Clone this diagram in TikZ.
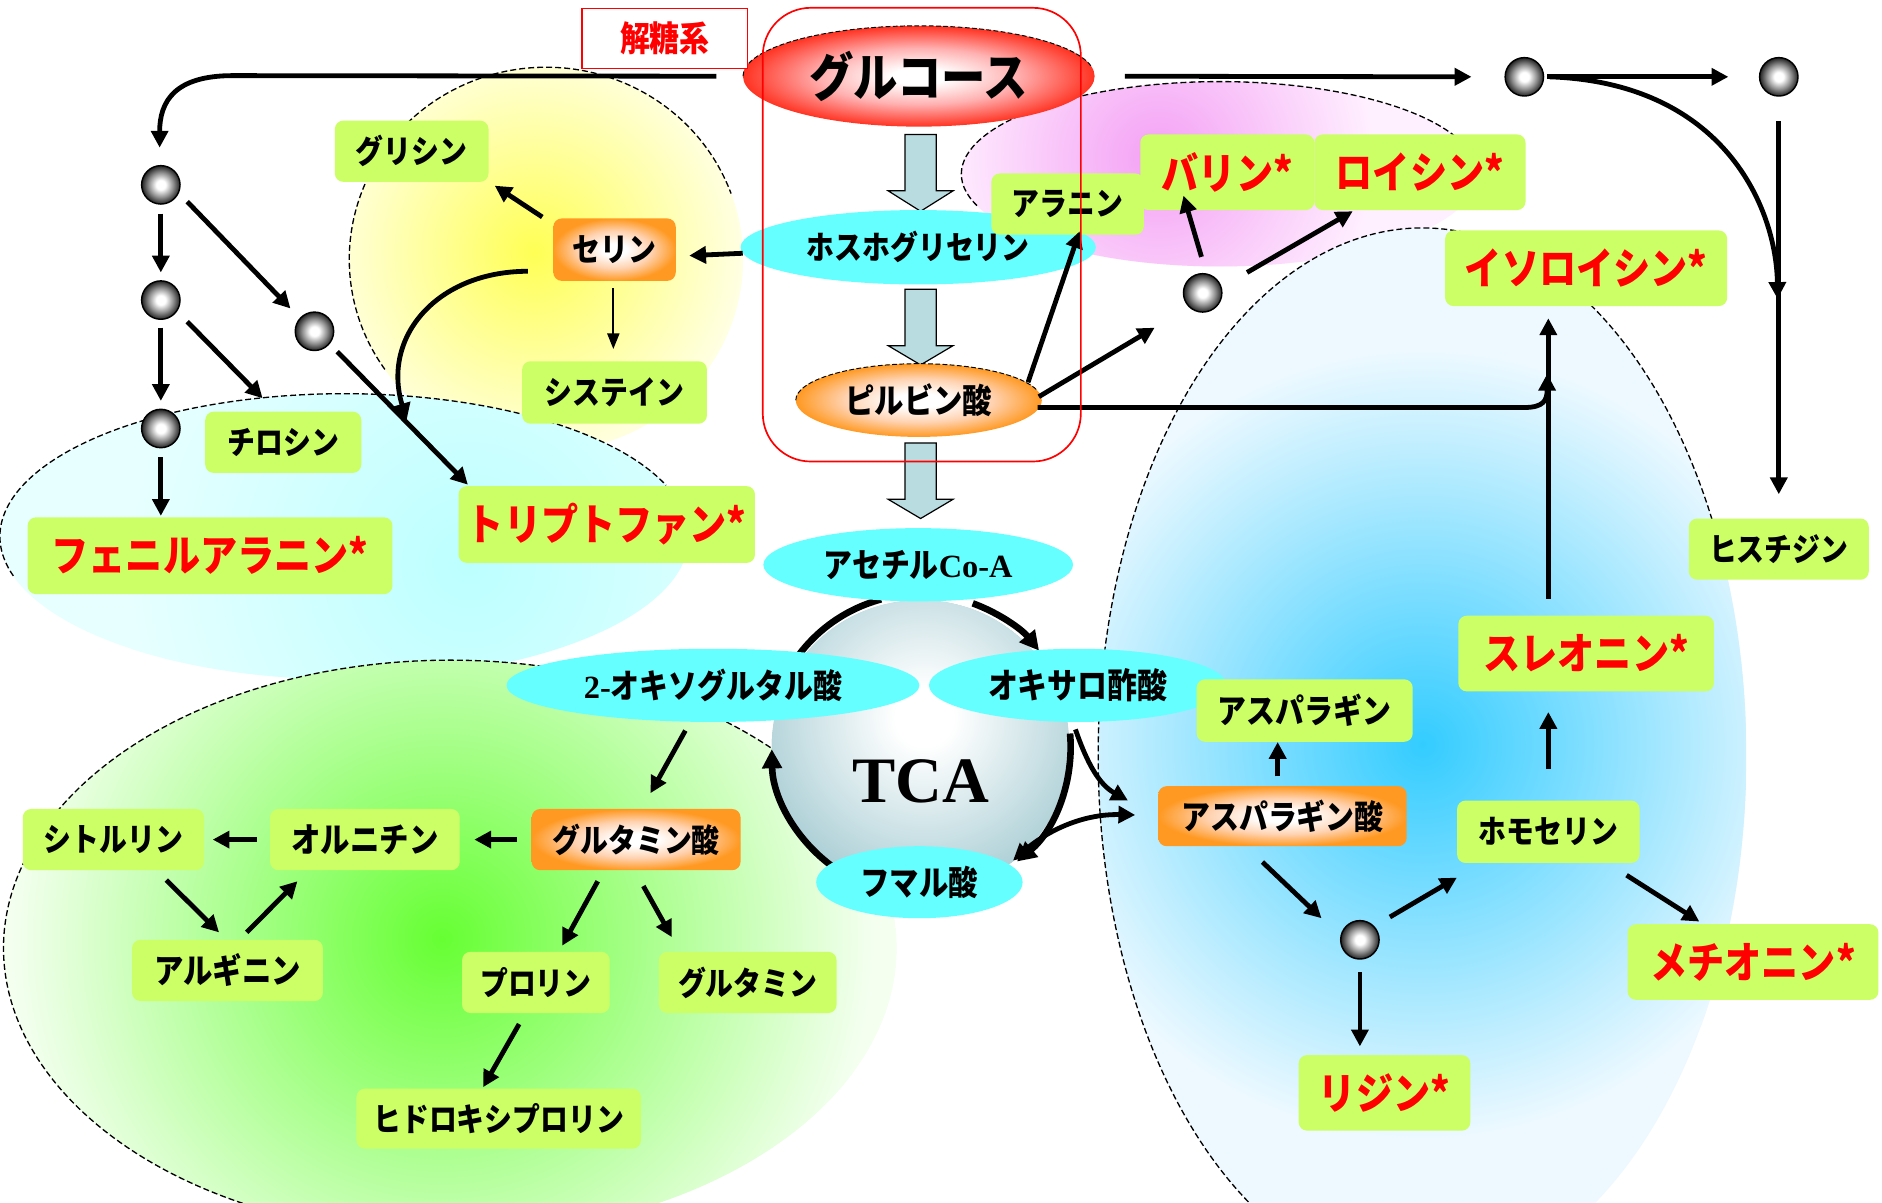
\documentclass[tikz,border=0pt]{standalone}
\usepackage{fontspec}
\newfontfamily\jpfont{Noto Sans CJK JP}[FakeStretch=0.86]
\newfontfamily\tmsfont{Liberation Serif}
\usetikzlibrary{arrows.meta,shapes.geometric,calc}
\definecolor{boxgreen}{HTML}{CCFF66}
\definecolor{cyanell}{HTML}{66FFFF}
\definecolor{blkfill}{HTML}{B8DCDF}
\definecolor{redtxt}{HTML}{FF0000}
\definecolor{pinkI}{HTML}{F4A0F4}\definecolor{pinkO}{HTML}{FFF0FF}
\definecolor{yelI}{HTML}{FFFF55}\definecolor{yelO}{HTML}{FFFFE8}
\definecolor{cyaI}{HTML}{BCFFFF}\definecolor{cyaO}{HTML}{E8FFFF}
\definecolor{bluI}{HTML}{33CCFF}\definecolor{bluO}{HTML}{EEF9FF}
\definecolor{grnI}{HTML}{66FF33}\definecolor{grnO}{HTML}{F4FFF0}
\definecolor{tcaI}{HTML}{FFFFFF}\definecolor{tcaO}{HTML}{A8CDD4}
\definecolor{gluI}{HTML}{FFFFFF}\definecolor{gluM}{HTML}{FFB0B0}\definecolor{gluO}{HTML}{FF3322}
\definecolor{orI}{HTML}{FFFFFF}\definecolor{orM}{HTML}{FFD2B0}\definecolor{orO}{HTML}{FF9922}
\definecolor{spM}{HTML}{909090}\definecolor{spO}{HTML}{222222}
\pgfdeclareradialshading{pinkglow}{\pgfpoint{0bp}{0bp}}{color(0bp)=(pinkI); color(25bp)=(pinkO); color(50bp)=(pinkO)}
\pgfdeclareradialshading{yelglow}{\pgfpoint{0bp}{0bp}}{color(0bp)=(yelI); color(25bp)=(yelO); color(50bp)=(yelO)}
\pgfdeclareradialshading{cyaglow}{\pgfpoint{0bp}{0bp}}{color(0bp)=(cyaI); color(25bp)=(cyaO); color(50bp)=(cyaO)}
\pgfdeclareradialshading{bluglow}{\pgfpoint{0bp}{0bp}}{color(0bp)=(bluI); color(25bp)=(bluO); color(50bp)=(bluO)}
\pgfdeclareradialshading{grnglow}{\pgfpoint{0bp}{0bp}}{color(0bp)=(grnI); color(25bp)=(grnO); color(50bp)=(grnO)}
\pgfdeclareradialshading{tcaglow}{\pgfpoint{0bp}{0bp}}{color(0bp)=(tcaI); color(4bp)=(tcaI); color(25bp)=(tcaO); color(50bp)=(tcaO)}
\pgfdeclareradialshading{gluglow}{\pgfpoint{0bp}{0bp}}{color(0bp)=(gluI); color(4bp)=(gluI); color(14bp)=(gluM); color(25bp)=(gluO); color(50bp)=(gluO)}
\pgfdeclareradialshading{orglow}{\pgfpoint{0bp}{0bp}}{color(0bp)=(orI); color(5bp)=(orI); color(15bp)=(orM); color(25bp)=(orO); color(50bp)=(orO)}
\pgfdeclareradialshading{sphglow}{\pgfpoint{0bp}{0bp}}{color(0bp)=(white); color(6bp)=(white); color(16bp)=(spM); color(25bp)=(spO); color(50bp)=(spO)}
\begin{document}
\begin{tikzpicture}[x=1pt,y=-1pt,
  jp/.style={font=\jpfont\bfseries\fontsize{#1}{#1}\selectfont},
  gb/.style={rectangle, rounded corners=7pt, fill=boxgreen, inner sep=0pt, jp=27},
  rb/.style={gb, text=redtxt, jp=36},
  ob/.style={rectangle, rounded corners=7pt, shade, shading=orglow, inner sep=0pt, jp=27},
  ce/.style={ellipse, fill=cyanell, inner sep=0pt, jp=27},
  sph/.style={circle, minimum size=32pt, inner sep=0pt, draw=black, line width=1.2pt, shade, shading=sphglow},
  arr/.style={line width=4pt, -{Triangle[length=14pt,width=14pt]}},
  arrtwo/.style={line width=4pt, {Triangle[length=14pt,width=14pt]}-{Triangle[length=14pt,width=14pt]}},
  thinarr/.style={line width=1.6pt, -{Triangle[length=13pt,width=10pt]}},
  tcarc/.style={line width=5.5pt},
  regdash/.style={line width=1.1pt, dash pattern=on 5pt off 2.5pt},
  blk/.style={fill=blkfill, draw=black, line width=1pt},
  edgedash/.style={line width=0.8pt, dash pattern=on 4pt off 2pt}
]
\useasboundingbox (0,0) rectangle (1568,1002);
\fill[white] (0,0) rectangle (1568,1002);

\begin{scope}
\clip (0,0) rectangle (1568,1002);
% pink region
\fill[pinkO] (1016,145) ellipse [x radius=215, y radius=77];
\begin{scope}\clip (1016,145) ellipse [x radius=215, y radius=77];
\shade[shading=pinkglow] (965,132) circle (180);\end{scope}
\draw[regdash] ($(1016,145)+(-200:215 and 77)$) arc[start angle=-200, end angle=-20, x radius=215, y radius=77];
% yellow region
\fill[yelO] (455,216) ellipse [x radius=164, y radius=160];
\begin{scope}\clip (455,216) ellipse [x radius=164, y radius=160];
\shade[shading=yelglow] (445,210) circle (180);\end{scope}
\draw[regdash] ($(455,216)+(-215:164 and 160)$) arc[start angle=-215, end angle=-20, x radius=164, y radius=160];
% cyan region
\fill[cyaO] (287,447) ellipse [x radius=287, y radius=119];
\begin{scope}\clip (287,447) ellipse [x radius=287, y radius=119];
\shade[shading=cyaglow] (390,470) circle (290);\end{scope}
\draw[regdash] ($(287,447)+(-196:287 and 119)$) arc[start angle=-196, end angle=-21, x radius=287, y radius=119];
% green region
\fill[grnO] (375,790) ellipse [x radius=372, y radius=240];
\begin{scope}\clip (375,790) ellipse [x radius=372, y radius=240];
\shade[shading=grnglow] (368,782) circle (360);\end{scope}
\draw[regdash] ($(375,790)+(-246:372 and 240)$) arc[start angle=-246, end angle=-44, x radius=372, y radius=240];
% blue region
\fill[bluO] (1185,630) ellipse [x radius=270, y radius=440];
\begin{scope}\clip (1185,630) ellipse [x radius=270, y radius=440];
\shade[shading=bluglow] (1185,620) circle (330);\end{scope}
\draw[regdash] ($(1185,630)+(-250:270 and 440)$) arc[start angle=-250, end angle=-25, x radius=270, y radius=440];
\end{scope}

% TCA cycle body
\coordinate (tcac) at (767,622);
\begin{scope}\clip (tcac) ellipse [x radius=124, y radius=122];
\fill[tcaO] (tcac) ellipse [x radius=124, y radius=122];
\shade[shading=tcaglow] (770,598) circle (150);\end{scope}
\node[font=\tmsfont\bfseries\fontsize{54}{54}\selectfont] (tca) at (767,651) {TCA};
\draw[tcarc, -{Triangle[length=16pt,width=16pt]}] ($(tcac)+(-70:127)$) arc[start angle=-70, end angle=-39, radius=127];
\draw[tcarc] ($(tcac)+(-105:127)$) arc[start angle=-105, end angle=-152, radius=127];
\draw[tcarc, -{Triangle[length=16pt,width=16pt]}] ($(tcac)+(-5:125)$) arc[start angle=-5, end angle=50, radius=125];
\draw[tcarc, -{Triangle[length=16pt,width=16pt]}] ($(tcac)+(-238:124)$) arc[start angle=-238, end angle=-181, radius=124];

% block arrows
\foreach \ya/\yb/\yc in {112/159/176, 241/288/304, 369/416/432}{
  \draw[blk] (754,\ya) -- (780,\ya) -- (780,\yb) -- (794,\yb) -- (767,\yc) -- (740,\yb) -- (754,\yb) -- cycle;
}

% ellipses
\node[ellipse, shade, shading=gluglow, minimum width=293pt, minimum height=84pt, inner sep=0pt, jp=43] (glu) at (765.5,63.5) {グルコース};
\draw[edgedash] ($(glu.center)+(-180:146.5 and 42)$) arc[start angle=-180, end angle=-12, x radius=146.5, y radius=42];
\node[ce, minimum width=296pt, minimum height=62pt] (pga) at (765,206) {ホスホグリセリン};
\node[ellipse, shade, shading=orglow, minimum width=205pt, minimum height=61pt, inner sep=0pt, jp=28.5] (pyr) at (765.5,333.5) {ピルビン酸};
\draw[edgedash] ($(pyr.center)+(-180:102.5 and 30.5)$) arc[start angle=-180, end angle=-15, x radius=102.5, y radius=30.5];
\node[ce, minimum width=258pt, minimum height=61pt, jp=28] (aca) at (765,470.5) {アセチル{\tmsfont\bfseries\fontsize{27}{27}\selectfont Co-A}};
\node[ce, minimum width=344pt, minimum height=61pt, jp=28] (oxg) at (594,571) {{\tmsfont\bfseries\fontsize{27}{27}\selectfont 2-}オキソグルタル酸};
\node[ce, minimum width=248pt, minimum height=61pt, jp=29] (oaa) at (898,571) {オキサロ酢酸};
\node[ce, minimum width=172pt, minimum height=60pt, jp=28.5] (fum) at (766,735) {フマル酸};

% boxes
\node[gb, minimum width=128pt, minimum height=51pt] (gly) at (343,126) {グリシン};
\node[ob, minimum width=102pt, minimum height=52pt] (ser) at (512,208) {セリン};
\node[gb, minimum width=154pt, minimum height=52pt] (cys) at (512,327) {システイン};
\node[gb, minimum width=130pt, minimum height=51pt] (tyr) at (236,368.5) {チロシン};
\node[rb, minimum width=304pt, minimum height=64pt] (phe) at (175,463) {フェニルアラニン*};
\node[rb, minimum width=247pt, minimum height=64pt] (trp) at (505.5,437) {トリプトファン*};
\node[gb, minimum width=127pt, minimum height=51pt] (ala) at (889.5,170) {アラニン};
\node[rb, minimum width=145pt, minimum height=63pt] (val) at (1022.5,143.5) {バリン*};
\node[rb, minimum width=176pt, minimum height=63pt] (leu) at (1183,143.5) {ロイシン*};
\node[rb, minimum width=235pt, minimum height=63pt] (ile) at (1321.5,223.5) {イソロイシン*};
\node[gb, minimum width=150pt, minimum height=51pt] (his) at (1482,457.5) {ヒスチジン};
\node[rb, minimum width=213pt, minimum height=63pt] (thr) at (1321.5,544.5) {スレオニン*};
\node[gb, minimum width=152pt, minimum height=52pt] (hse) at (1290,693) {ホモセリン};
\node[gb, minimum width=180pt, minimum height=52pt, jp=28] (asn) at (1087,592) {アスパラギン};
\node[ob, minimum width=207pt, minimum height=50pt, jp=28] (asp) at (1068.5,680) {アスパラギン酸};
\node[rb, minimum width=143pt, minimum height=63pt] (lys) at (1153.5,910.5) {リジン*};
\node[rb, minimum width=209pt, minimum height=63pt] (met) at (1460.5,801.5) {メチオニン*};
\node[ob, minimum width=174pt, minimum height=51pt] (glua) at (530,699.5) {グルタミン酸};
\node[gb, minimum width=158pt, minimum height=51pt, jp=28.5] (orn) at (304,699.5) {オルニチン};
\node[gb, minimum width=151pt, minimum height=51pt] (cit) at (94.5,699.5) {シトルリン};
\node[gb, minimum width=159pt, minimum height=51pt, jp=28.5] (arg) at (189.5,808.5) {アルギニン};
\node[gb, minimum width=123pt, minimum height=51pt] (pro) at (446.5,818.5) {プロリン};
\node[gb, minimum width=148pt, minimum height=51pt] (gln) at (623,818.5) {グルタミン};
\node[gb, minimum width=237pt, minimum height=50pt] (hyp) at (415.5,932) {ヒドロキシプロリン};

% spheres
\node[sph] (s1) at (134,154) {};
\node[sph] (s2) at (134,250) {};
\node[sph] (s3) at (262,276) {};
\node[sph] (s4) at (134,357) {};
\node[sph] (s5) at (1002,244) {};
\node[sph] (s6) at (1270,64) {};
\node[sph] (s7) at (1482,64) {};
\node[sph] (s8) at (1133,783) {};

% connectors
\coordinate (gluL) at ($(glu.west)+(-22,0)$);
\draw[arr] (gluL) -- ($(s1)+(60,-91)$) .. controls ($(s1)+(12,-91)$) and ($(s1)+(-1,-70)$) .. ($(s1)+(-1,-31)$);
\draw[arr] ($(glu.east)+(25,0)$) -- ($(s6)+(-44,0)$);
\draw[arr] ($(s6)+(19,0)$) -- ($(s7)+(-42,0)$);
\draw[arr] ($(s6)+(21,0)$) .. controls ($(s7)+(-45,5)$) and ($(s7)+(-2,110)$) .. ($(s7)+(-1,185)$);
\draw[arr] ($(s7)+(0,37)$) -- ($(his.north)+(0,-20)$);
\draw[arr] ($(s1)+(0,24)$) -- ($(s2)+(0,-23)$);
\draw[arr] ($(s1)+(22,14)$) -- ($(s3)+(-20,-19)$);
\draw[arr] ($(s2)+(0,23)$) -- ($(s4)+(0,-23)$);
\draw[arr] ($(s2)+(22,18)$) -- ($(tyr.north west)+(48,-11)$);
\draw[arr] ($(s4)+(0,24)$) -- ($(s4 |- phe.north)+(0,-1)$);
\draw[arr] ($(s3)+(19,17)$) -- ($(trp.north west)+(8,-1)$);
\draw[arr] ($(pga.west)+(2,5)$) -- ($(ser.east)+(11,5)$);
\draw[arr] ($(ser.north west)+(-9,-1)$) -- ($(gly.south east)+(5,3)$);
\draw[thinarr] ($(ser.south)+(-1,6)$) -- ($(cys.north)+(-1,-10)$);
\coordinate (serc) at ($(ser.west)+(-21,18)$);
\draw[arr] (serc) .. controls ($(serc)+(-75,0)$) and ($(serc)+(-122,54)$) .. ($(serc)+(-101,124)$);
\draw[arr] ($(pyr.center)+(91,-15)$) -- ($(ala.south)+(10,-3)$);
\draw[arr] ($(pyr.center)+(100,-3)$) -- ($(s5)+(-40,29)$);
\draw[arr] ($(s5)+(-1,-30)$) -- ($(s5)+(-16,-81)$);
\draw[arr] ($(s5)+(37,-17)$) -- ($(s5)+(125,-68)$);
\coordinate (vx) at (1290,0);
\draw[arr] ($(pyr.center)+(99,6)$) -- ($(vx |- pyr.center)+(-20,6)$) .. controls ($(vx |- pyr.center)+(-4,6)$) and ($(vx |- pyr.center)+(-1,0)$) .. ($(vx |- pyr.center)+(-1,-22)$);
\draw[arr] ($(vx |- thr.north)+(0,-14)$) -- ($(vx |- ile.south)+(0,10)$);
\draw[arr] ($(hse.north)+(0,-26)$) -- ($(hse.north |- thr.south)+(0,17)$);
\draw[arr] ($(asp.north)+(-4,-8)$) -- ($(asp.north |- asn.south)+(-4,0)$);
\draw[arr] ($(asp.south west)+(87,13)$) -- ($(s8)+(-32,-18)$);
\draw[arr] ($(s8)+(25,-19)$) -- ($(hse.south west)+(0,12)$);
\draw[arr] ($(s8)+(0,27)$) -- ($(s8 |- lys.north)+(0,-7)$);
\draw[arr] ($(hse.south east)+(-11,10)$) -- ($(met.north west)+(60,-2)$);
\draw[arr] ($(oaa.south)+(-2,6)$) .. controls ($(oaa.south)+(8,35)$) and ($(oaa.south)+(18,52)$) .. ($(asp.west)+(-25,-13)$);
\draw[arrtwo] ($(fum.center)+(78,-18)$) .. controls ($(fum.center)+(109,-45)$) and ($(asp.west)+(-60,-2)$) .. ($(asp.west)+(-19,-1)$);
\draw[arr] ($(oxg.south)+(-23,7)$) -- ($(glua.north)+(12,-13)$);
\draw[arr] ($(glua.west)+(-12,0)$) -- ($(orn.east)+(12,0)$);
\draw[arr] ($(orn.west)+(-11,0)$) -- ($(cit.east)+(7,0)$);
\draw[arr] ($(cit.south)+(44,8)$) -- ($(arg.north)+(-7,-6)$);
\draw[arr] ($(arg.north)+(16,-6)$) -- ($(orn.south west)+(23,9)$);
\draw[arr] ($(glua.south)+(-32,9)$) -- ($(pro.north)+(22,-5)$);
\draw[arr] ($(glua.south)+(6,13)$) -- ($(gln.north west)+(11,-12)$);
\draw[arr] ($(pro.south)+(-14,9)$) -- ($(hyp.north)+(-13,-1)$);

% glycolysis frame and label
\node[draw=red, line width=1.4pt, rounded corners=40pt, minimum width=265pt, minimum height=378pt, inner sep=0pt] (frame) at (768,195.5) {};
\node[draw=red, line width=1.2pt, fill=white, minimum width=138pt, minimum height=50pt, inner sep=0pt, text=red, jp=29] (kt) at (554,32) {解糖系};
\end{tikzpicture}
\end{document}
